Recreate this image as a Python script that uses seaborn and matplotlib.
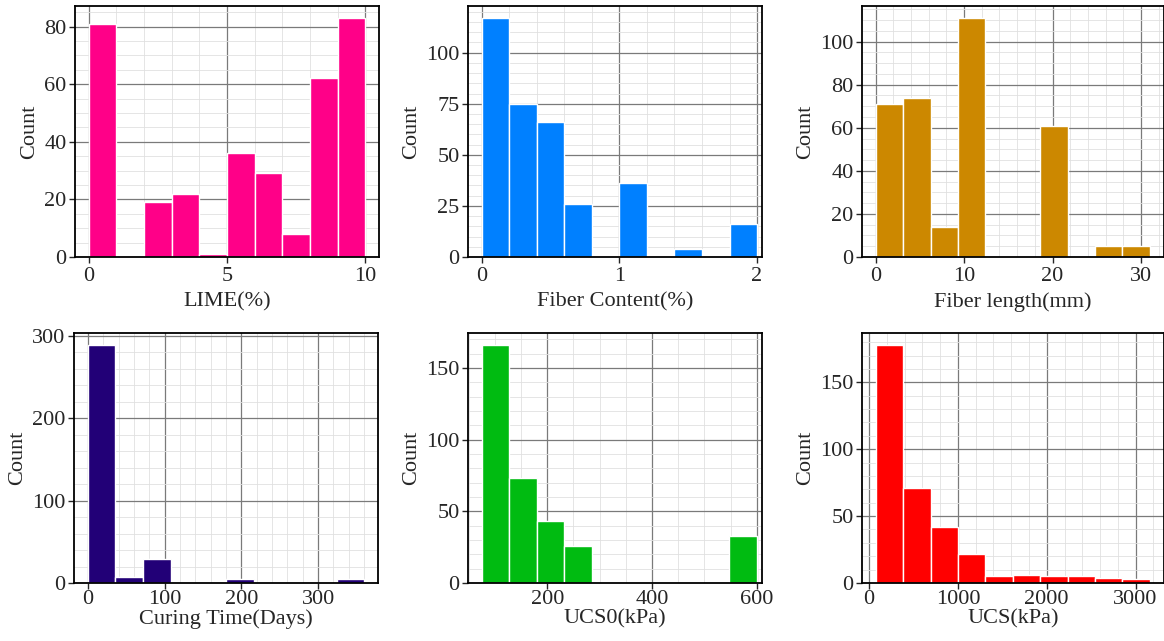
import numpy as np
import pandas as pd
import matplotlib
matplotlib.use("Agg")
import matplotlib.pyplot as plt
from matplotlib.ticker import AutoMinorLocator, MultipleLocator
import seaborn as sns

# Bin counts for each variable (10 equal-width bins over the given range)
lime_counts = [81, 0, 19, 22, 1, 36, 29, 8, 62, 83]
lime_range = (0, 10)

fiber_content_counts = [117, 75, 66, 26, 0, 36, 0, 4, 0, 16]
fiber_content_range = (0, 2)

fiber_length_counts = [71, 74, 14, 111, 0, 0, 61, 0, 5, 5]
fiber_length_range = (0, 31)

curing_counts = [289, 7, 29, 0, 0, 5, 0, 0, 0, 5]
curing_range = (0, 360)

ucs0_counts = [166, 73, 43, 26, 0, 0, 0, 0, 0, 33]
ucs0_range = (75, 600)

ucs_counts = [178, 71, 42, 22, 5, 6, 5, 5, 4, 3]
ucs_range = (75, 3160)

x_labels = ["LIME(%)", "Fiber Content(%)", "Fiber length(mm)",
            "Curing Time(Days)", "UCS0(kPa)", "UCS(kPa)"]
x_steps = [5, 1, 10, 100, 200, 1000]
y_steps = [20, 25, 20, 100, 50, 50]
colors = ["#FF0088", "#0080FF", "#CC8800", "#220077", "#00BB11", "#FF0000"]

sns.set_style("ticks")
plt.rcParams["font.family"] = ["Liberation Serif", "DejaVu Serif"]

panels = [
    (lime_counts, lime_range),
    (fiber_content_counts, fiber_content_range),
    (fiber_length_counts, fiber_length_range),
    (curing_counts, curing_range),
    (ucs0_counts, ucs0_range),
    (ucs_counts, ucs_range),
]

fig = plt.figure(figsize=(11.64, 6.41), dpi=100)
W, H = 1164.0, 641.0
# axes boxes in pixels: (left, top, right, bottom)
boxes = [
    (75, 6, 379, 257),
    (468, 6, 762, 257),
    (862, 6, 1163.5, 257),
    (74, 333, 378, 583),
    (468, 333, 762, 583),
    (862, 333, 1163.5, 583),
]

for i, ((counts, (lo, hi)), box) in enumerate(zip(panels, boxes)):
    l, t, r, b = box
    top_row = i < 3
    ax = fig.add_axes([l / W, 1 - b / H, (r - l) / W, (b - t) / H])
    n = len(counts)
    width = (hi - lo) / n
    centers = [lo + width * (k + 0.5) for k in range(n)]
    df = pd.DataFrame({"value": centers, "count": counts})
    sns.histplot(data=df, x="value", weights="count", bins=n,
                 binrange=(lo, hi), color=colors[i], alpha=1,
                 edgecolor="white", linewidth=1.0, ax=ax, zorder=2)
    ax.set_xlabel(x_labels[i], fontsize=16, labelpad=5 if top_row else 0)
    ax.set_ylabel("Count", fontsize=16, labelpad=4)
    ax.xaxis.set_major_locator(MultipleLocator(x_steps[i]))
    ax.yaxis.set_major_locator(MultipleLocator(y_steps[i]))
    ax.xaxis.set_minor_locator(AutoMinorLocator())
    ax.yaxis.set_minor_locator(AutoMinorLocator())
    ax.set_axisbelow(True)
    ax.grid(which="major", color="#7a7a7a", linewidth=0.9)
    ax.grid(which="minor", color="#e0e0e0", linewidth=0.6)
    ax.tick_params(which="major", direction="out", length=4, width=1,
                   labelsize=16, pad=2)
    ax.tick_params(axis="x", which="major", pad=3 if top_row else 1)
    ax.tick_params(which="minor", length=0)
    for sp in ax.spines.values():
        sp.set_visible(True)
        sp.set_color("black")
        sp.set_linewidth(1.3)

# middle column is trimmed at its right edge
fig.axes[1].set_xlim(right=2.036)
fig.axes[4].set_xlim(right=610)

fig.savefig("out.png", dpi=100)
